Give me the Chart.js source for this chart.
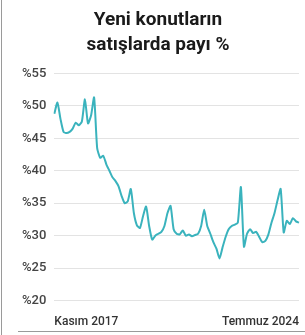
<!DOCTYPE html>
<html><head><meta charset="utf-8">
<script src="https://cdn.jsdelivr.net/npm/chart.js@4"></script>
<style>
html,body{margin:0;padding:0;background:#fff;}
#wrap{position:relative;width:305px;height:335px;}
#lb{position:absolute;left:1px;top:0;width:1px;height:335px;background:#9a9a9a;}
#bb{position:absolute;left:18px;top:331px;width:287px;height:1px;background:#9a9a9a;}
canvas{position:absolute;left:0;top:0;}
</style></head>
<body><div id="wrap"><canvas id="c" width="305" height="335"></canvas><div id="lb"></div><div id="bb"></div></div>
<script>
const titleLines = ["Yeni konutların", "satışlarda payı %"];
const monthNames = ["Ocak","Şubat","Mart","Nisan","Mayıs","Haziran","Temmuz","Ağustos","Eylül","Ekim","Kasım","Aralık"];
const categories = [];
for (let i = 0; i < 81; i++) { const m = (10 + i) % 12; const y = 2017 + Math.floor((10 + i) / 12); categories.push(monthNames[m] + " " + y); }
const shareValues = [
 48.8,50.5,48.0,46.0,45.8,46.0,46.5,47.4,47.0,47.6,
 51.0,47.3,48.5,51.3,43.5,42.0,42.3,41.0,40.0,39.0,
 38.4,37.6,36.1,35.0,35.3,37.2,33.5,31.6,31.2,33.0,
 34.5,31.5,29.4,30.0,30.3,30.6,31.5,33.5,34.6,31.0,
 30.3,30.2,30.8,30.0,30.2,29.9,30.1,30.3,31.5,34.0,
 31.5,30.3,29.0,28.0,26.5,28.2,29.8,31.0,31.5,31.7,
 32.0,37.5,28.3,30.3,31.0,30.4,30.6,29.8,29.0,29.2,
 30.2,32.0,33.5,35.5,37.2,30.5,32.3,31.8,32.7,32.2,32.0
];
const yTicks = [20,25,30,35,40,45,50,55];
const xTickLabels = ["Kasım 2017", "Temmuz 2024"];

new Chart(document.getElementById('c'), {
  type: 'line',
  data: { labels: categories, datasets: [{ data: shareValues, borderColor: '#3ab3bd', borderWidth: 2, pointRadius: 0, tension: 0.2, fill: false }] },
  options: {
    responsive: false, animation: false,
    layout: { padding: { left: 14, right: 3, top: 6, bottom: 0 } },
    plugins: {
      legend: { display: false }, tooltip: { enabled: false },
      title: { display: true, text: titleLines, color: '#1a1a1a', font: { family: 'Roboto', size: 19, weight: 'bold', lineHeight: 1.3 }, padding: { top: 2, bottom: 16 } }
    },
    scales: {
      x: {
        grid: { display: false }, border: { display: false },
        ticks: { autoSkip: false, maxRotation: 0, align: 'inner', color: '#333', font: { family: 'Roboto', size: 12, weight: '500' }, padding: 6,
          callback: (v, i) => i === 0 ? xTickLabels[0] : (i === categories.length - 1 ? xTickLabels[1] : '') }
      },
      y: {
        min: 20, max: 55,
        afterBuildTicks: (ax) => { ax.ticks = yTicks.map(v => ({ value: v })); },
        grid: { color: '#e3e3e3', drawTicks: false }, border: { display: false },
        ticks: { color: '#444', font: { family: 'Roboto', size: 13, weight: '500' }, padding: 8, callback: v => '%' + v }
      }
    }
  }
});
</script></body></html>
